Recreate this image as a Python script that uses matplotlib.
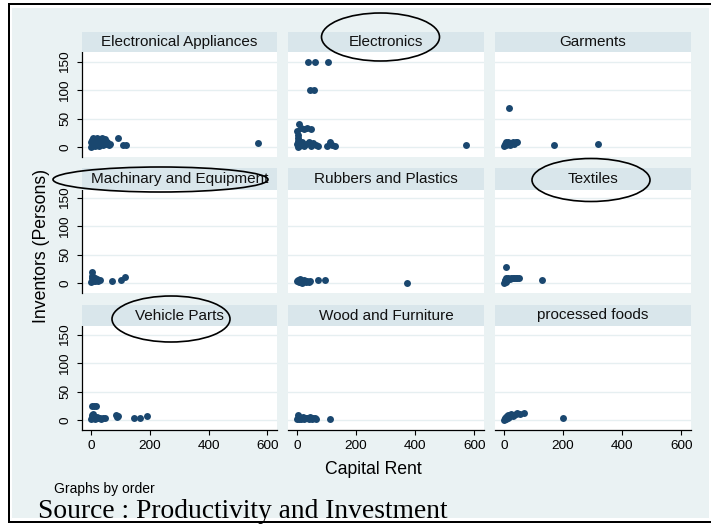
import matplotlib
matplotlib.use('Agg')
import matplotlib.pyplot as plt
from matplotlib.patches import Ellipse, Rectangle

plt.rcParams['font.family'] = ['Liberation Sans', 'DejaVu Sans']

# capital rent (x) and inventors (y) per sector
ea_rent = [0, 1, 2, 3, 4, 5, 6, 8, 10, 12, 14, 15, 18, 20, 22, 25, 28, 30, 32, 35, 38, 40, 45, 48, 50, 55, 60, 65, 92, 108, 118, 567]
ea_inv = [0, 8, 3, 12, 5, 1, 15, 7, 10, 2, 14, 6, 9, 15, 4, 11, 2, 13, 6, 8, 15, 3, 10, 14, 5, 8, 3, 6, 16, 4, 4, 7]

el_rent = [38, 62, 104, 45, 58, 5, 12, 22, 35, 48, 0, 2, 3, 4, 1, 5, 2, 8, 12, 18, 25, 30, 40, 48, 55, 65, 72, 100, 110, 118, 130, 573]
el_inv = [150, 150, 150, 100, 100, 40, 33, 32, 33, 32, 28, 22, 16, 10, 5, 2, 0, 6, 3, 8, 1, 5, 9, 2, 7, 4, 2, 1, 8, 4, 2, 4]

gm_rent = [18, 0, 3, 5, 8, 10, 15, 20, 25, 30, 35, 40, 45, 170, 318]
gm_inv = [69, 2, 5, 8, 3, 6, 9, 4, 7, 9, 5, 8, 9, 4, 5]

mc_rent = [3, 0, 2, 4, 6, 8, 10, 12, 15, 18, 20, 25, 30, 70, 102, 115]
mc_inv = [20, 2, 8, 12, 4, 10, 6, 3, 9, 5, 7, 4, 6, 3.5, 5, 10]

rp_rent = [0, 2, 5, 8, 10, 12, 15, 18, 20, 25, 30, 35, 40, 45, 72, 95, 372]
rp_inv = [3, 6, 1, 4, 7, 2, 5, 0, 3, 6, 1, 4, 2, 3, 5.5, 5.5, 0]

tx_rent = [6, 0, 2, 4, 6, 8, 10, 15, 20, 25, 30, 35, 40, 45, 50, 128]
tx_inv = [28, 0, 3, 6, 8, 2, 5, 8, 7, 8, 9, 8, 9, 8, 9, 5]

vp_rent = [3, 10, 17, 0, 2, 4, 6, 8, 10, 15, 20, 25, 30, 35, 42, 48, 85, 90, 92, 145, 168, 190]
vp_inv = [24, 24, 24, 1, 5, 8, 3, 10, 6, 2, 5, 3, 4, 2, 4, 4, 8, 5, 7, 4, 4, 7.5]

wf_rent = [0, 2, 4, 6, 8, 10, 15, 20, 25, 30, 35, 40, 45, 50, 55, 60, 65, 112]
wf_inv = [2, 8, 4, 1, 6, 3, 2, 5, 1, 3, 4, 2, 5, 2, 3, 4, 2, 1]

pf_rent = [0, 2, 4, 6, 8, 10, 12, 15, 18, 20, 25, 30, 35, 40, 45, 55, 68, 200]
pf_inv = [0, 3, 1, 5, 2, 7, 4, 9, 6, 8, 10, 7, 9, 11, 12, 11, 12, 3]

sectors = ['Electronical Appliances', 'Electronics', 'Garments',
           'Machinary and Equipment', 'Rubbers and Plastics', 'Textiles',
           'Vehicle Parts', 'Wood and Furniture', 'processed foods']
rents = [ea_rent, el_rent, gm_rent, mc_rent, rp_rent, tx_rent, vp_rent, wf_rent, pf_rent]
invs = [ea_inv, el_inv, gm_inv, mc_inv, rp_inv, tx_inv, vp_inv, wf_inv, pf_inv]

y_ticks = [0, 50, 100, 150]
x_ticks = [0, 200, 400, 600]

W, H = 711, 525
fig = plt.figure(figsize=(W / 100, H / 100), dpi=100)


def box(x0, y0, x1, y1):
    # pixel box (top-left origin) -> figure fraction
    return [x0 / W, 1 - y1 / H, (x1 - x0) / W, (y1 - y0) / H]


bg = fig.add_axes([0, 0, 1, 1], zorder=0)
bg.set_xlim(0, W)
bg.set_ylim(H, 0)
bg.axis('off')
bg.add_patch(Rectangle((12, 8), 697, 510, color='#EAF2F3', lw=0))

col_x = [(82, 277), (288, 484), (495, 691)]
row_y = [(52, 157), (190, 293), (326, 430)]
strip_y = [(32, 52), (168, 190), (305, 326)]
zero_y = [147, 283, 420]
k = 0.567  # pixels per inventor

navy = '#1A476F'

for i, name in enumerate(sectors):
    r, c = divmod(i, 3)
    x0, x1 = col_x[c]
    y0, y1 = row_y[r]
    ax = fig.add_axes(box(x0, y0, x1, y1), zorder=2)
    ax.set_facecolor('white')
    ax.plot(rents[i], invs[i], 'o', color=navy, ms=5.0, mew=0)
    ax.set_xlim(-30.6, 633)
    ax.set_ylim(-(y1 - zero_y[r]) / k, (zero_y[r] - y0) / k)
    ax.set_yticks(y_ticks)
    ax.set_xticks(x_ticks)
    ax.grid(axis='y', color='#E6EFF1', lw=1.0)
    ax.set_axisbelow(True)
    for s in ax.spines.values():
        s.set_visible(False)
    if c == 0:
        ax.spines['left'].set_visible(True)
        ax.spines['left'].set_linewidth(0.9)
        ax.tick_params(axis='y', length=3.6, width=0.8, pad=4, labelsize=9.7)
        plt.setp(ax.get_yticklabels(), rotation=90, va='center')
    else:
        ax.tick_params(axis='y', left=False, labelleft=False)
    if r == 2:
        ax.spines['bottom'].set_visible(True)
        ax.spines['bottom'].set_linewidth(0.9)
        ax.tick_params(axis='x', length=3.6, width=0.8, pad=3.5, labelsize=9.7)
    else:
        ax.tick_params(axis='x', bottom=False, labelbottom=False)

    sy0, sy1 = strip_y[r]
    st = fig.add_axes(box(x0, sy0, x1, sy1), zorder=2)
    st.set_facecolor('#D9E6EB')
    st.set_xticks([])
    st.set_yticks([])
    for s in st.spines.values():
        s.set_visible(False)
    st.text(0.5, 0.5, name, ha='center', va='center', fontsize=11,
            color='#111111', transform=st.transAxes)

ov = fig.add_axes([0, 0, 1, 1], zorder=10)
ov.patch.set_alpha(0)
ov.set_xlim(0, W)
ov.set_ylim(H, 0)
ov.axis('off')

ov.text(42, 246, 'Inventors (Persons)', rotation=90, ha='center', va='center', fontsize=12.7)
ov.text(373, 470, 'Capital Rent', ha='center', va='center', fontsize=12.7)
ov.text(54, 492.5, 'Graphs by order', ha='left', va='baseline', fontsize=10)
ov.text(38, 518, 'Source : Productivity and Investment', ha='left', va='baseline',
        fontsize=19.8, family=['Liberation Serif', 'DejaVu Serif'])

# slide frame
ov.add_patch(Rectangle((7.5, 2.8), 703.5, 2.0, color='black', lw=0))
ov.add_patch(Rectangle((7.5, 2.8), 2.6, 520.5, color='black', lw=0))
ov.add_patch(Rectangle((7.5, 520.8), 703.5, 2.4, color='black', lw=0))

# hand drawn highlights
for cx, cy, w, h in [(380.5, 37, 118, 48), (160.5, 179.5, 215, 25),
                     (591, 180, 118, 43), (171, 319, 118, 46)]:
    ov.add_patch(Ellipse((cx, cy), w, h, fill=False, ec='black', lw=1.2))

fig.savefig('out.png', dpi=100)
